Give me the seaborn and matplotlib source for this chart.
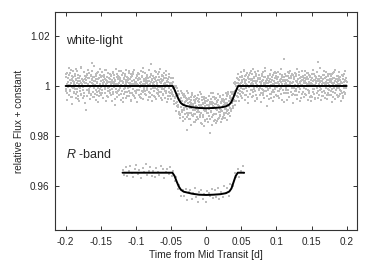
import numpy as np
import seaborn as sns
import matplotlib.pyplot as plt
from matplotlib.ticker import FixedLocator, FixedFormatter

#### data (flux offsets in units of 1e-4)
# white-light, first sequence
wl_flux_e4 = [
    34, -12, 8, 51, -27, 15, -3, 42, -38, 22, 5, -19, 63, 11, -45, 28, -7, 36, 17, -24,
    -9, 47, 2, -31, 25, 58, -14, 19, -52, 33, 9, -6, 40, -21, 13, 71, -35, 4, 27, -16,
    22, -41, 15, 38, -2, 29, -95, 10, 45, -18, 6, 31, -29, 52, -11, 17, -4, 39, -33, 24,
    12, 92, -23, 7, 35, -46, 20, 3, -15, 48, 26, -37, 14, -8, 56, 30, -20, 9, 43, -27,
    -5, 18, 41, -30, 23, 11, -49, 37, 1, 26, -13, 65, 8, -39, 19, 34, -10, 50, -22, 14,
    29, -17, 6, 44, -36, 21, 10, -25, 53, 16, -3, 32, -78, 25, 7, -12, 47, -28, 38, 2,
    -19, 36, 13, -7, 27, 59, -33, 20, -1, 42, -48, 15, 31, -14, 4, 38, -26, 22, 9, -40,
    17, -8, 33, 50, -21, 12, -4, 28, -55, 35, 19, -30, 6, 46, -11, 24, -42, 14, 3, 30,
    -26, 11, 39, -16, 5, 23, -37, 48, 13, -6, 28, -50, 17, 2, 36, -23, 9, 55, -15, 21,
    8, -34, 25, 14, -9, 40, -18, 3, 31, -45, 19, 7, -27, 44, -2, 88, -38, 26, 12, -10,
    33, -20, 4, 29, -43, 18, 57, -13, 10, -31, 22, -5, 37, -24, 15, 1, -47, 27, -8, 41,
    -14, 23, -36, 9, 30, -19, 12, -6, 45, -29, 3, 20, -51, 16, -3, 34, -25, 7, -40, 13,
    -18, 6, -31, 17, -40, -7, -61, -10, -48, -2, -67, -39, -100, -33, -63, -22, -85, -52, -111, -66,
    -61, -113, -48, -84, -30, -97, -72, -126, -45, -90, -72, -40, -113, -61, -84, -175, -55, -107, -69, -28,
    -107, -49, -78, -132, -67, -90, -56, -116, -35, -97, -81, -111, -44, -143, -70, -62, -94, -52, -125, -84,
    -62, -105, -131, -78, -51, -117, -82, -33, -108, -152, -57, -86, -123, -71, -44, -96, -141, -67, -102, -49,
    -91, -60, -134, -76, -107, -41, -121, -80, -64, -190, -53, -99, -72, -126, -29, -90, -68, -112, -46, -137,
    -74, -114, -49, -93, -65, -139, -78, -56, -128, -83, -103, -39, -117, -68, -96, -60, -132, -81, -52, -108,
    -117, -65, -77, -129, -53, -91, -38, -102, -67, -23, -111, -59, -78, -40, -89, -23, -93, -53, -34, -68,
    -29, -81, -31, -59, 14, -36, 7, -59, 1, -13, 32, -29, 12, 49, -17, 25, -31, 7, 56, -10,
    17, -24, 39, 5, -13, 28, 61, -36, 11, 22, -7, 43, -19, 3, 34, -46, 14, 26, -2, 50,
    -31, 9, 24, -15, 47, 18, -40, 6, 32, -11, 55, -22, 13, 38, -5, 21, -53, 29, 1, -17,
    42, -9, 16, 30, -28, 7, 49, -14, 25, -37, 11, 35, -20, 2, 58, -6, 19, -82, 27, 10,
    -12, 33, -1, 20, 44, -32, 15, 4, -49, 36, 23, -17, 8, 52, -26, 12, 31, -8, 40, -35,
    26, -3, -39, 14, 37, 1, -21, 46, 18, -10, 29, -55, 6, 35, 20, -15, 108, -30, 9, 24,
    -7, 41, 13, -27, 22, 54, -16, 3, 30, -44, 17, 8, -24, 39, 11, -2, 45, -33, 16, 28,
    35, -19, 5, 48, -11, 21, -38, 14, 27, -4, 57, -25, 10, 32, -13, 19, -47, 24, 4, 40,
    -23, 15, 31, -8, 43, -34, 12, 26, -1, 37, -18, 8, 51, -29, 16, 2, 34, -41, 22, 13,
    9, 46, -26, 18, 2, -14, 39, 25, -48, 11, 30, -6, 20, 97, -21, 7, -35, 28, 15, -3,
    32, -12, 21, 4, -42, 27, 13, -20, 44, 6, -30, 36, 17, -9, 25, -51, 10, 38, -16, 23,
    -5, 29, 14, -37, 19, 47, -13, 8, 33, -24, 12, 55, -28, 21, 3, -18, 40, -7, 26, -44,
    18, -10, 36, 7, -32, 24, 11, -19, 42, 1, 28, -39, 15, 49, -8, 22, -27, 31, 5, 14,
]
wl_t_first, wl_t_last = -0.2, 0.2

# white-light, second (interleaved) sequence
wl2_flux_e4 = [
    -22, 47, 9, -58, 31, 14, -36, 70, 3, -17, 52, -44, 25, -6, 38, -71, 19, 60, -29, 8,
    41, -13, -50, 27, 66, -24, 11, -39, 45, 2, -61, 33, 18, -8, 74, -33, 6, 29, -47, 21,
    -4, 55, -27, 13, -68, 36, 22, -15, 49, -42, 7, 63, -19, 30, -53, 16, -2, 44, -35, 58,
    26, -46, 35, -9, 18, 79, -31, 5, -56, 40, 12, -23, 51, -64, 28, 1, -40, 67, -12, 34,
    -37, 20, 57, -18, 4, -49, 43, 15, -28, 62, -7, 24, -59, 37, 10, -45, 53, -21, 31, -3,
    48, -30, 14, 39, -62, 23, -11, 56, -34, 6, 45, -52, 19, -1, 68, -26, 35, -43, 9, 27,
    -15, 61, -38, 21, 33, -55, 2, 42, -20, 50, -66, 13, 29, -32, 47, -9, 17, -48, 64, -24,
    36, -5, 24, -41, 58, 11, -27, 3, 46, -60, 20, 38, -14, 54, -37, 8, 65, -19, -50, 15,
    -29, 44, 7, -63, 26, 52, -16, 31, -46, 12, 59, -33, 4, 41, -22, 70, -54, 18, 28, -10,
    53, -21, 32, -35, 10, 43, -57, 19, 1, 64, -26, 37, -45, 14, 49, -12, 23, -61, 39, 5,
    -42, 16, 60, -8, 29, -51, 35, 6, -30, 47, -18, 55, -39, 22, -3, 67, -25, 11, 42, -58,
    19, -34, 40, -12, 51, -47, 8, 33, -20, 58, -65, 17, 26, -41, 36, -7, 48, -30, 13, -53,
    31, -26, 12, -38, 31, -37, -4, -73, -3, -46, -2, -99, -39, -81, -9, -75, -38, -105, -31, -128,
    -116, -53, -84, -20, -105, -62, -139, -37, -71, -95, -33, -132, -63, -86, -49, -125, -20, -94, -54, -117,
    -51, -133, -66, -88, -155, -43, -110, -77, -28, -121, -71, -144, -56, -96, -39, -112, -82, -138, -47, -104,
    -96, -37, -131, -64, -105, -25, -126, -78, -149, -56, -90, -43, -117, -70, -162, -51, -82, -138, -61, -101,
    -48, -109, -76, -145, -58, -93, -39, -122, -72, -134, -27, -103, -63, -156, -80, -45, -116, -86, -140, -53,
    -113, -73, -149, -48, -97, -59, -134, -34, -106, -81, -122, -43, -91, -66, -145, -54, -102, -37, -126, -76,
    -57, -127, -67, -93, -30, -110, -71, -135, -40, -95, -31, -82, -109, -47, -121, -48, -61, -101, -25, -69,
    -88, -24, -55, 10, -57, -19, -75, 12, -21, 31, -39, 13, -45, 28, 4, -60, 35, -19, 11, -42,
    23, -49, 36, 5, -27, 62, -13, 41, -56, 18, 9, -35, 52, -20, 30, -68, 14, 45, -4, 27,
    -31, 58, -17, 26, -44, 11, 69, -24, 37, -7, -59, 20, 48, -36, 15, 3, -50, 33, 61, -12,
    44, -6, -38, 29, 13, -65, 40, 21, -28, 54, -15, 7, -47, 35, 72, -22, 10, -41, 25, -3,
    -18, 39, 16, -53, 47, -9, 28, -34, 63, 1, -26, 42, -60, 19, 8, -43, 56, -14, 31, 50,
    12, -40, 57, -21, 34, 6, -48, 24, -11, 68, -32, 15, 43, -55, 22, -1, 37, -64, 18, -28,
    46, -16, 25, 3, -57, 38, 19, -30, 51, -45, 9, 60, -23, 30, -10, 47, -37, 14, -70, 33,
    -9, 53, -35, 21, 40, -19, 66, -51, 7, 29, -26, 44, -4, 17, -62, 35, 2, 58, -33, 24,
    37, -24, 11, -46, 59, 18, -14, 32, -38, 50, 4, -56, 27, 45, -20, 13, -43, 39, 8, -61,
    -44, 30, 64, -11, 22, -33, 48, 5, -52, 36, 15, -27, 57, -8, 26, -49, 41, 19, -17, 72,
    20, -58, 34, 9, -25, 43, -40, 61, 13, -19, 31, -47, 6, 54, -36, 24, -12, 46, -29, 2,
    -35, 17, 49, -22, 38, -63, 26, 10, -45, 52, -7, 33, -54, 21, 63, -16, 28, -38, 14, 41,
    8, -42, 27, 55, -18, 35, -60, 16, 44, -29, 11, -48, 39, 3, -24, 58, -34, 20, -9, 30,
]
wl2_t_first, wl2_t_last = -0.1997, 0.1997

rb_flux_e4 = [
    12, -8, 21, -15, 5, 26, -3, -19, 14, 30, -6, 9, -22, 17, 2, 33, -11, 7, 24, -14,
    8, -17, 19, 1, -9, 27, 13, -21, 4, 16, -5, 22, -12, 6, -32, -18, -64, -50, -93, -71,
    -92, -64, -108, -77, -71, -105, -83, -61, -96, -119, -78, -68, -105, -84, -116, -74, -80, -93, -65, -102,
    -71, -97, -63, -106, -76, -97, -52, -83, -62, -95, -47, -51, -53, -1, -17, 14, -18, 6, 25, -3,
]
rb_t_first, rb_t_last = -0.119, 0.054
rb_offset = -0.0347

# fitted model curves (vertices)
wl_model_t = [-0.2, -0.0476, -0.045, -0.042, -0.039, -0.036, -0.033, -0.028, -0.02, -0.01,
              0.0, 0.01, 0.02, 0.028, 0.033, 0.036, 0.039, 0.042, 0.0455, 0.2]
wl_model_f = [1.0, 1.0, 0.9985, 0.9965, 0.9945, 0.9932, 0.9925, 0.9920, 0.9915, 0.9912,
              0.9911, 0.9912, 0.9914, 0.9918, 0.9926, 0.9936, 0.9956, 0.9978, 1.0, 1.0]
rb_model_t = [-0.119, -0.048, -0.045, -0.042, -0.039, -0.036, -0.032, -0.02, -0.01, 0.0,
              0.01, 0.02, 0.028, 0.033, 0.036, 0.039, 0.042, 0.045, 0.054]
rb_model_f = [0.9653, 0.9653, 0.9640, 0.9618, 0.9598, 0.9585, 0.9577, 0.9569, 0.9565, 0.9564,
              0.9565, 0.9567, 0.9571, 0.9578, 0.9590, 0.9615, 0.9640, 0.9653, 0.9653]

xticks = [-0.2, -0.15, -0.1, -0.05, 0, 0.05, 0.1, 0.15, 0.2]
xtick_labels = ["-0.2", "-0.15", "-0.1", "-0.05", "0", "0.05", "0.1", "0.15", "0.2"]
yticks = [0.96, 0.98, 1.0, 1.02]
ytick_labels = ["0.96", "0.98", "1", "1.02"]

sns.set_theme(style="ticks")
plt.rcParams['font.family'] = ['Liberation Sans', 'DejaVu Sans']
plt.rcParams['mathtext.fontset'] = 'custom'
plt.rcParams['mathtext.it'] = 'Liberation Sans:italic'
plt.rcParams['mathtext.rm'] = 'Liberation Sans'

fig = plt.figure(figsize=(3.74, 2.64), dpi=100)
ax = fig.add_axes([0.147, 0.129, 0.8075, 0.8255])

wl_time = np.concatenate([np.linspace(wl_t_first, wl_t_last, len(wl_flux_e4)),
                          np.linspace(wl2_t_first, wl2_t_last, len(wl2_flux_e4))])
wl_flux = 1 + np.array(wl_flux_e4 + wl2_flux_e4) * 1e-4
rb_time = np.linspace(rb_t_first, rb_t_last, len(rb_flux_e4))
rb_flux = 1 + np.array(rb_flux_e4) * 1e-4 + rb_offset

pt_col = '#bdbdbd'
sns.scatterplot(x=wl_time, y=wl_flux, color=pt_col, s=1.6, marker='s', linewidth=0, ax=ax)
sns.scatterplot(x=rb_time, y=rb_flux, color=pt_col, s=1.6, marker='s', linewidth=0, ax=ax)
sns.lineplot(x=wl_model_t, y=wl_model_f, color='black', linewidth=1.4, sort=False, estimator=None, ax=ax)
sns.lineplot(x=rb_model_t, y=rb_model_f, color='black', linewidth=1.4, sort=False, estimator=None, ax=ax)

ax.text(-0.2, 1.0181, "white-light", fontsize=9, va='center', ha='left')
ax.text(-0.2, 0.9724, "$R$ -band", fontsize=9, va='center', ha='left')

ax.set_xlim(-0.2152, 0.2147)
ax.set_ylim(0.9424, 1.0296)
ax.xaxis.set_major_locator(FixedLocator(xticks))
ax.xaxis.set_major_formatter(FixedFormatter(xtick_labels))
ax.yaxis.set_major_locator(FixedLocator(yticks))
ax.yaxis.set_major_formatter(FixedFormatter(ytick_labels))
ax.tick_params(direction='in', length=3, width=0.7, color='#333333', labelsize=7.2,
               top=True, right=True, pad=4)
ax.tick_params(axis='x', pad=5)
for s in ax.spines.values():
    s.set_color('#333333')
    s.set_linewidth(0.8)
ax.set_xlabel("Time from Mid Transit [d]", fontsize=7.4, labelpad=2)
ax.set_ylabel("relative Flux + constant", fontsize=7.2, labelpad=4)

fig.savefig("out.png", dpi=100)
